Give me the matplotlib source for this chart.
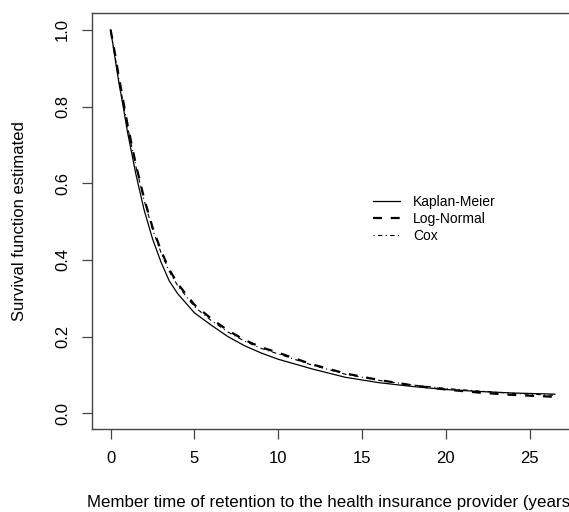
import matplotlib
matplotlib.use("Agg")
import matplotlib.pyplot as plt

plt.rcParams["font.family"] = ["Liberation Sans", "DejaVu Sans"]

# survival estimates
time_years = [0, 0.25, 0.5, 0.75, 1, 1.5, 2, 2.5, 3, 3.5, 4, 5, 6, 7, 8, 9, 10,
              12, 14, 16, 18, 20, 22, 24, 26.5]
km_surv = [1.0, 0.93, 0.86, 0.80, 0.735, 0.625, 0.53, 0.455, 0.395, 0.345, 0.312,
           0.262, 0.23, 0.2, 0.176, 0.157, 0.141, 0.116, 0.094, 0.08, 0.07, 0.062,
           0.057, 0.053, 0.05]
lognormal_surv = [1.0, 0.94, 0.875, 0.815, 0.755, 0.65, 0.56, 0.485, 0.425, 0.375,
                  0.338, 0.283, 0.247, 0.216, 0.191, 0.172, 0.158, 0.128, 0.104,
                  0.087, 0.073, 0.062, 0.054, 0.048, 0.043]
cox_surv = [1.0, 0.935, 0.87, 0.81, 0.75, 0.645, 0.555, 0.48, 0.42, 0.37, 0.333,
            0.278, 0.242, 0.212, 0.188, 0.169, 0.155, 0.126, 0.102, 0.086, 0.074,
            0.065, 0.058, 0.052, 0.047]

legend_labels = ["Kaplan-Meier", "Log-Normal", "Cox"]
x_ticks = [0, 5, 10, 15, 20, 25]
y_ticks = [0.0, 0.2, 0.4, 0.6, 0.8, 1.0]

fig = plt.figure(figsize=(5.69, 5.12), dpi=100)
ax = fig.add_axes([0.162, 0.162, 0.875, 0.812])

ax.plot(time_years, km_surv, color="black", lw=0.9, linestyle="-", label=legend_labels[0])
ax.plot(time_years, lognormal_surv, color="black", lw=1.6, linestyle=(0, (4, 4)),
        label=legend_labels[1])
ax.plot(time_years, cox_surv, color="black", lw=0.8, linestyle=(0, (1, 3, 4, 3)),
        label=legend_labels[2])

ax.set_xlim(-1.1, 28.6)
ax.set_ylim(-0.041, 1.043)

ax.set_xticks(x_ticks)
ax.set_xticklabels([str(t) for t in x_ticks])
ax.set_yticks(y_ticks)
ax.set_yticklabels([f"{v:.1f}" for v in y_ticks], rotation=90, va="center")

for s in ax.spines.values():
    s.set_color("#444444")
    s.set_linewidth(1.0)

ax.tick_params(axis="both", direction="out", length=7, width=0.9, color="#444444",
               labelsize=12, pad=9)

# the original figure is wider than the crop, so the label runs off the right edge
ax.set_xlabel("Member time of retention to the health insurance provider (years)",
              fontsize=12.2, labelpad=21, x=0.4815)
ax.set_ylabel("Survival function estimated", fontsize=12, labelpad=20)

ax.legend(loc="upper left", bbox_to_anchor=(0.552, 0.576), frameon=False, fontsize=10,
          handlelength=2.0, handletextpad=0.9, labelspacing=0.2, borderaxespad=0)

fig.savefig("out.png", dpi=100)
